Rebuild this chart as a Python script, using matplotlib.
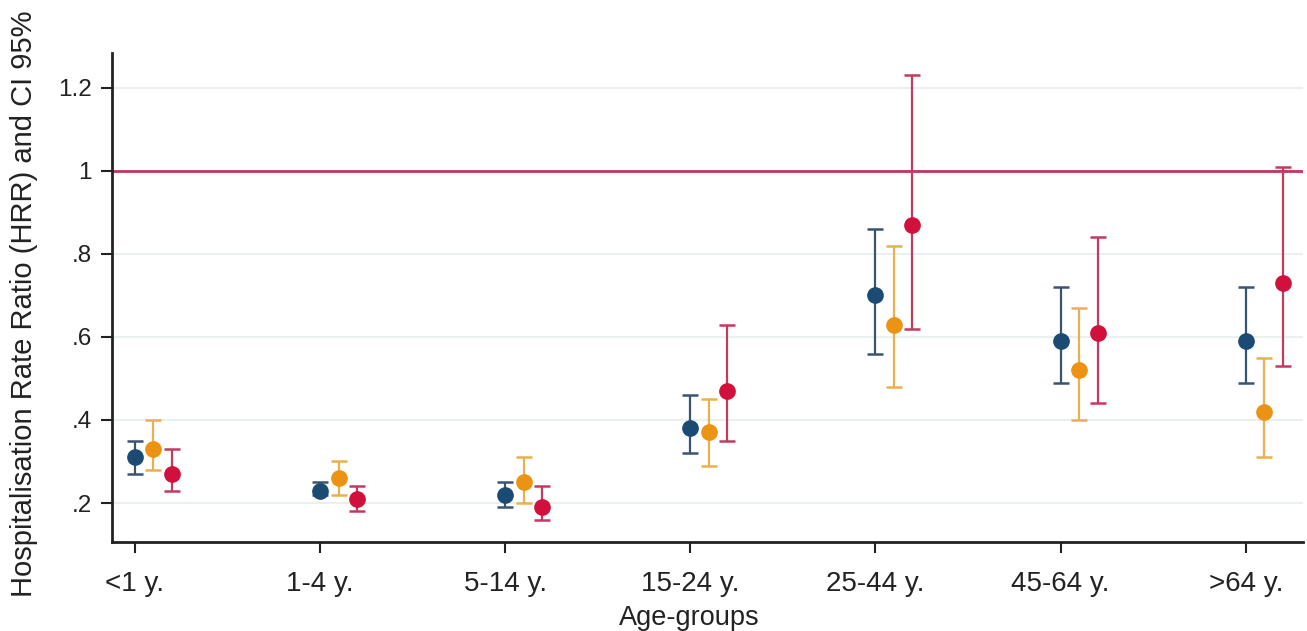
import numpy as np
import matplotlib
matplotlib.use("Agg")
import matplotlib.pyplot as plt

plt.rcParams["font.family"] = ["Liberation Sans", "DejaVu Sans"]

groups = ["<1 y.", "1-4 y.", "5-14 y.", "15-24 y.", "25-44 y.", "45-64 y.", ">64 y."]

blue_hrr = [0.31, 0.23, 0.22, 0.38, 0.70, 0.59, 0.59]
blue_lo = [0.27, 0.22, 0.19, 0.32, 0.56, 0.49, 0.49]
blue_hi = [0.35, 0.25, 0.25, 0.46, 0.86, 0.72, 0.72]

orange_hrr = [0.33, 0.26, 0.25, 0.37, 0.63, 0.52, 0.42]
orange_lo = [0.28, 0.22, 0.20, 0.29, 0.48, 0.40, 0.31]
orange_hi = [0.40, 0.30, 0.31, 0.45, 0.82, 0.67, 0.55]

red_hrr = [0.27, 0.21, 0.19, 0.47, 0.87, 0.61, 0.73]
red_lo = [0.23, 0.18, 0.16, 0.35, 0.62, 0.44, 0.53]
red_hi = [0.33, 0.24, 0.24, 0.63, 1.23, 0.84, 1.01]

yticks = [0.2, 0.4, 0.6, 0.8, 1.0, 1.2]
ytick_labels = [".2", ".4", ".6", ".8", "1", "1.2"]

series = [
    (blue_hrr, blue_lo, blue_hi, "#1b4a73", "#3a5470", 0.0),
    (orange_hrr, orange_lo, orange_hi, "#ec9314", "#e9b04e", 0.1),
    (red_hrr, red_lo, red_hi, "#d1103c", "#c23a60", 0.2),
]

fig = plt.figure(figsize=(13.07, 6.31), dpi=100)
ax = fig.add_axes([0.0857, 0.141, 0.9113, 0.775])

x = np.arange(len(groups))
for gy in yticks:
    ax.axhline(gy, color="#eaf0f0", lw=1.5, zorder=0)
ax.axhline(1.0, color="#c2355e", lw=2, zorder=1)

for val, lo, hi, mc, ec, off in series:
    val = np.array(val)
    err = np.vstack([val - np.array(lo), np.array(hi) - val])
    ax.errorbar(x + off, val, yerr=err, fmt="none", ecolor=ec,
                elinewidth=1.6, capsize=6, capthick=1.8, zorder=2)
    ax.plot(x + off, val, "o", ms=11, color=mc, zorder=3)

ax.set_xlim(-0.124, 6.31)
ax.set_ylim(0.106, 1.284)
ax.set_xticks(x)
ax.set_xticklabels(groups, fontsize=20)
ax.set_yticks(yticks)
ax.set_yticklabels(ytick_labels, fontsize=17.5)
ax.tick_params(axis="both", direction="out", length=8, width=1.5,
               colors="#222222", labelcolor="#222222")
ax.tick_params(axis="x", pad=13)
ax.tick_params(axis="y", pad=6.5)
for s in ["top", "right"]:
    ax.spines[s].set_visible(False)
for s in ["left", "bottom"]:
    ax.spines[s].set_linewidth(2)
    ax.spines[s].set_color("#222222")

ax.set_ylabel("Hospitalisation Rate Ratio (HRR) and CI 95%", fontsize=21,
              color="#222222")
ax.yaxis.set_label_coords(-0.062, 0.487)
ax.set_xlabel("Age-groups", fontsize=19.5, color="#222222")
ax.xaxis.set_label_coords(0.485, -0.128)

fig.savefig("out.png", dpi=100)
